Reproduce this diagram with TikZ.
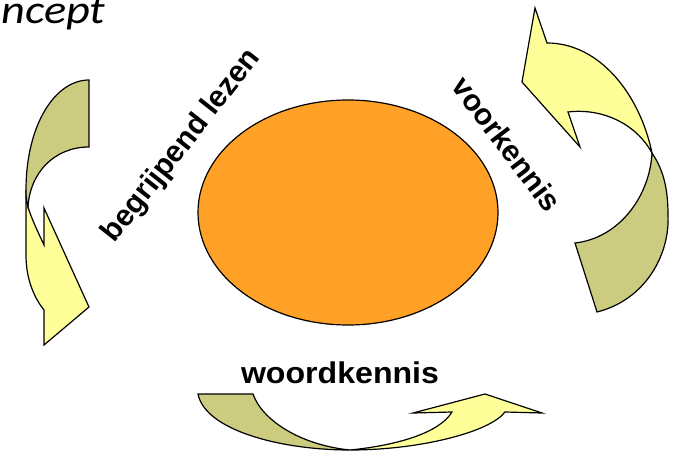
\documentclass[tikz,border=0pt]{standalone}
\usepackage{fontspec}
\usepackage{graphicx}
\usetikzlibrary{shapes.geometric}
\newfontfamily\arialfont{Liberation Sans}
\newfontfamily\califont{Carlito}
\definecolor{ovalorange}{RGB}{255,161,38}
\definecolor{ribbonyellow}{RGB}{255,255,153}
\definecolor{ribbonolive}{RGB}{204,204,128}
\tikzset{
  frontribbon/.style={draw=black, line width=1.2pt, fill=ribbonyellow, line join=miter},
  backribbon/.style={draw=black, line width=1.2pt, fill=ribbonolive, line join=miter},
  labeltext/.style={inner sep=0pt, font=\arialfont\bfseries\fontsize{30}{36}\selectfont},
}
\begin{document}
\begin{tikzpicture}[x=1pt,y=-1pt]
\useasboundingbox (0,0) rectangle (675,452);

% title fragment
\node[anchor=base west, inner sep=0pt, font=\califont\itshape\fontsize{40}{44}\selectfont] (title) at (1,24) {\scalebox{1.16}[1]{ncept}};

% central oval
\node[draw=black, line width=1.2pt, fill=ovalorange, ellipse, minimum width=300pt, minimum height=225pt, inner sep=0pt] (oval) at (348,212.5) {};

% left ribbon arrow
\draw[frontribbon] (26,190) -- (26,255) .. controls (26,282) and (36,300) .. (44,310)
  -- (44,345) -- (89,307) -- (44,208) -- (44,245)
  .. controls (38,232) and (32,220) .. (28,207) -- cycle;
\draw[backribbon] (89,80) -- (89,147) .. controls (55,147) and (30,172) .. (28,207)
  .. controls (26,200) and (26,195) .. (26,190)
  .. controls (26,125) and (55,80) .. (89,80) -- cycle;

% right ribbon arrow
\draw[backribbon] (652,153) .. controls (650,195) and (620,238) .. (575,243)
  -- (597,312) .. controls (645,300) and (670,255) .. (668,215)
  .. controls (668,185) and (662,168) .. (652,153) -- cycle;
\draw[frontribbon] (535,8) -- (547,43) .. controls (600,43) and (640,95) .. (652,153)
  .. controls (635,122) and (600,108) .. (568,112)
  -- (580,147) -- (522,82) -- cycle;

% bottom ribbon arrow
\draw[backribbon] (198,394) -- (253,394) .. controls (262,420) and (300,445) .. (350,450)
  .. controls (280,450) and (205,430) .. (198,394) -- cycle;
\draw[frontribbon] (350,450) .. controls (400,445) and (440,432) .. (452,412)
  -- (413,413) -- (485,394) -- (542,413) -- (505,412)
  .. controls (490,432) and (420,450) .. (350,450) -- cycle;

% labels
\node[labeltext, rotate=51.8] (lezen) at (182,146) {begrijpend lezen};
\node[labeltext, rotate=-52.8] (voorkennis) at (507,144) {voorkennis};
\node[labeltext, anchor=base] (woordkennis) at (340,383) {\scalebox{1.07}[1]{woordkennis}};
\end{tikzpicture}
\end{document}
